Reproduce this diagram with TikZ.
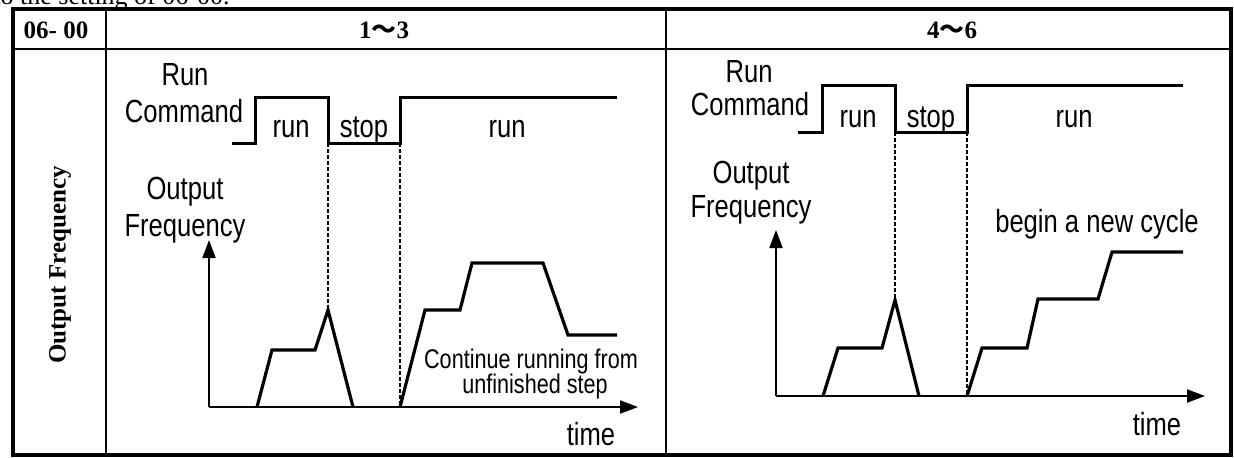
\documentclass[tikz,border=0pt]{standalone}
\usepackage{fontspec}
\setmainfont{Liberation Serif}
\newfontfamily\narrowsans[FakeStretch=0.8]{Liberation Sans}
\newfontfamily\cjk{Noto Sans CJK SC}
\usetikzlibrary{arrows.meta}

\begin{document}
\begin{tikzpicture}[
    x=0.5pt, y=-0.5pt,
    >={Triangle[length=9pt, width=6.5pt]},
    every node/.style={inner sep=0pt},
    frame/.style={line width=2pt},
    grid/.style={line width=1pt},
    head/.style={font=\fontsize{12.5}{14}\selectfont\bfseries},
    lbl/.style={font=\narrowsans\fontsize{16}{18}\selectfont, anchor=base},
    note/.style={font=\narrowsans\fontsize{13.5}{16}\selectfont, anchor=base},
  ]

  \useasboundingbox (0,0) rectangle (1234,457);

  % Cut-off line above the table
  \node[font=\fontsize{13}{15}\selectfont, anchor=base west] (intro) at (-7,4)
    {to the setting of 06-00.};

  % Table
  \draw[frame] (13,9) rectangle (1231,455);
  \draw[grid] (13,49) -- (1231,49);
  \draw[grid] (106,9) -- (106,455);
  \draw[grid] (666,9) -- (666,455);

  % Header cells
  \node[head] (hpar) at (56,30) {06- 00};
  \node[head] (hlow) at (384,30) {1{\cjk ～}3};
  \node[head] (hhigh) at (952,30) {4{\cjk ～}6};
  \node[head, rotate=90] (hrow) at (60,265) {Output Frequency};

  % Line styles
  \tikzset{
    signal/.style={line width=1.5pt},
    curve/.style={line width=1.6pt, line join=miter},
    axis/.style={->, line width=1pt},
    guide/.style={dash pattern=on 2pt off 1pt, line width=0.7pt},
  }

  % ---- Setting 1~3 ----
  \node[lbl] (lrun) at (185,85) {Run};
  \node[lbl] (lcmd) at (184,122) {Command};
  \node[lbl] (lrunA) at (291,137) {run};
  \node[lbl] (lstop) at (364,137) {stop};
  \node[lbl] (lrunB) at (507,137) {run};
  \node[lbl] (lout) at (185,199) {Output};
  \node[lbl] (lfreq) at (185,236) {Frequency};
  \node[note] (lcont) at (531,368) {Continue running from};
  \node[note] (lstep) at (535,393) {unfinished step};
  \node[lbl] (ltime) at (591,445) {time};

  \coordinate (lorig) at (209,407);
  \coordinate (lytip) at (209,240);
  \coordinate (lxtip) at (638,407);
  \coordinate (loff) at (328,143);
  \coordinate (lon) at (400,143);
  \coordinate (lpeak) at (328,310);
  \coordinate (lrest) at (400,407);

  \draw[signal] (232,143) -- (255,143) -- (255,97) -- (328,97)
    -- (loff) -- (lon) -- (400,97) -- (617,97);
  \draw[guide] (loff) -- (lpeak);
  \draw[guide] (lon) -- (lrest);
  \draw[axis] (lorig) -- (lytip);
  \draw[axis] (lorig) -- (lxtip);
  \draw[curve] (257,407) -- (272,350) -- (315,350) -- (lpeak) -- (353,407);
  \draw[curve] (lrest) -- (425,310) -- (460,310) -- (472,263) -- (543,263)
    -- (568,335) -- (617,335);

  % ---- Setting 4~6 ----
  \node[lbl] (rrun) at (749,82) {Run};
  \node[lbl] (rcmd) at (750,115) {Command};
  \node[lbl] (rrunA) at (858,127) {run};
  \node[lbl] (rstop) at (931,127) {stop};
  \node[lbl] (rrunB) at (1074,127) {run};
  \node[lbl] (rout) at (751,183) {Output};
  \node[lbl] (rfreq) at (751,217) {Frequency};
  \node[lbl] (rcycle) at (1097,232) {begin a new cycle};
  \node[lbl] (rtime) at (1157,435) {time};

  \coordinate (rorig) at (776,396);
  \coordinate (rytip) at (776,230);
  \coordinate (rxtip) at (1205,396);
  \coordinate (roff) at (895,132);
  \coordinate (ron) at (967,132);
  \coordinate (rpeak) at (895,300);
  \coordinate (rrest) at (967,396);

  \draw[signal] (798,132) -- (822,132) -- (822,85) -- (895,85)
    -- (roff) -- (ron) -- (967,85) -- (1183,85);
  \draw[guide] (roff) -- (rpeak);
  \draw[guide] (ron) -- (rrest);
  \draw[axis] (rorig) -- (rytip);
  \draw[axis] (rorig) -- (rxtip);
  \draw[curve] (823,396) -- (838,348) -- (882,348) -- (rpeak) -- (919,396);
  \draw[curve] (rrest) -- (982,348) -- (1027,348) -- (1038,299) -- (1098,299)
    -- (1112,252) -- (1183,252);

\end{tikzpicture}
\end{document}
